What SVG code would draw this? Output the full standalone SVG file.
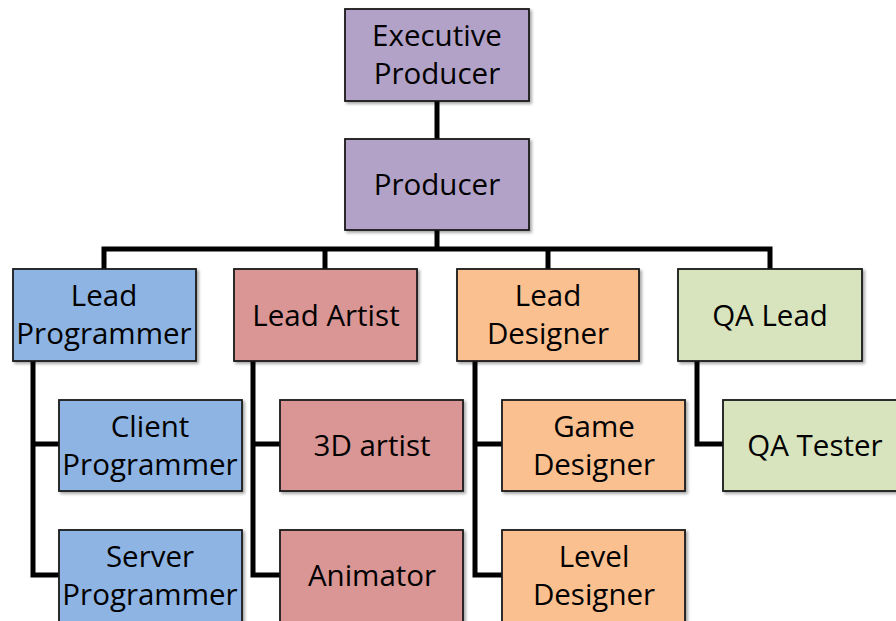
<svg xmlns="http://www.w3.org/2000/svg" width="896" height="621" viewBox="0 0 896 621">
<style>
.box{stroke:#1a1a1a;stroke-width:1.8;filter:url(#sh)}
.p{fill:#b3a2c7}.b{fill:#8eb4e3}.r{fill:#d99694}.o{fill:#fac090}.g{fill:#d7e4bd}
text{font-family:"Open Sans","Liberation Sans",sans-serif;font-size:29.5px;fill:#000;text-anchor:middle}
.c{fill:none;stroke:#000;stroke-width:5}
</style>
<defs>
<filter id="sh" x="-10%" y="-10%" width="130%" height="130%">
<feDropShadow dx="2" dy="2" stdDeviation="1.5" flood-color="#000" flood-opacity="0.35"/>
</filter>
</defs>
<rect width="896" height="621" fill="#fff"/>
<g id="connectors">
<path class="c" d="M437 101V139"/>
<path class="c" d="M437 230V249"/>
<path class="c" d="M104 269V249H770V269"/>
<path class="c" d="M325 249V269"/>
<path class="c" d="M548 249V269"/>
<path class="c" d="M33 361V575H59M33 444H59"/>
<path class="c" d="M253 361V575H280M253 444H280"/>
<path class="c" d="M475 361V575H502M475 444H502"/>
<path class="c" d="M697 361V444H723"/>
</g>
<g id="exec"><rect class="box p" x="345" y="9" width="184" height="92"/><text x="437" y="46">Executive</text><text x="437" y="84">Producer</text></g>
<g id="producer"><rect class="box p" x="345" y="139" width="184" height="91"/><text x="437" y="195">Producer</text></g>
<g id="leadprog"><rect class="box b" x="13" y="269" width="183" height="92"/><text x="104" y="306">Lead</text><text x="104" y="344">Programmer</text></g>
<g id="leadartist"><rect class="box r" x="234" y="269" width="183" height="92"/><text x="326" y="326">Lead Artist</text></g>
<g id="leaddesigner"><rect class="box o" x="457" y="269" width="182" height="92"/><text x="548" y="306">Lead</text><text x="548" y="344">Designer</text></g>
<g id="qalead"><rect class="box g" x="678" y="269" width="184" height="92"/><text x="770" y="326">QA Lead</text></g>
<g id="client"><rect class="box b" x="59" y="400" width="183" height="91"/><text x="150" y="437">Client</text><text x="150" y="475">Programmer</text></g>
<g id="server"><rect class="box b" x="59" y="530" width="183" height="100"/><text x="150" y="567">Server</text><text x="150" y="605">Programmer</text></g>
<g id="artist3d"><rect class="box r" x="280" y="400" width="183" height="91"/><text x="372" y="456">3D artist</text></g>
<g id="animator"><rect class="box r" x="280" y="530" width="183" height="100"/><text x="372" y="586">Animator</text></g>
<g id="game"><rect class="box o" x="502" y="400" width="183" height="91"/><text x="594" y="437">Game</text><text x="594" y="475">Designer</text></g>
<g id="level"><rect class="box o" x="502" y="530" width="183" height="100"/><text x="594" y="567">Level</text><text x="594" y="605">Designer</text></g>
<g id="qatester"><rect class="box g" x="723" y="400" width="184" height="91"/><text x="815" y="456">QA Tester</text></g>
</svg>
